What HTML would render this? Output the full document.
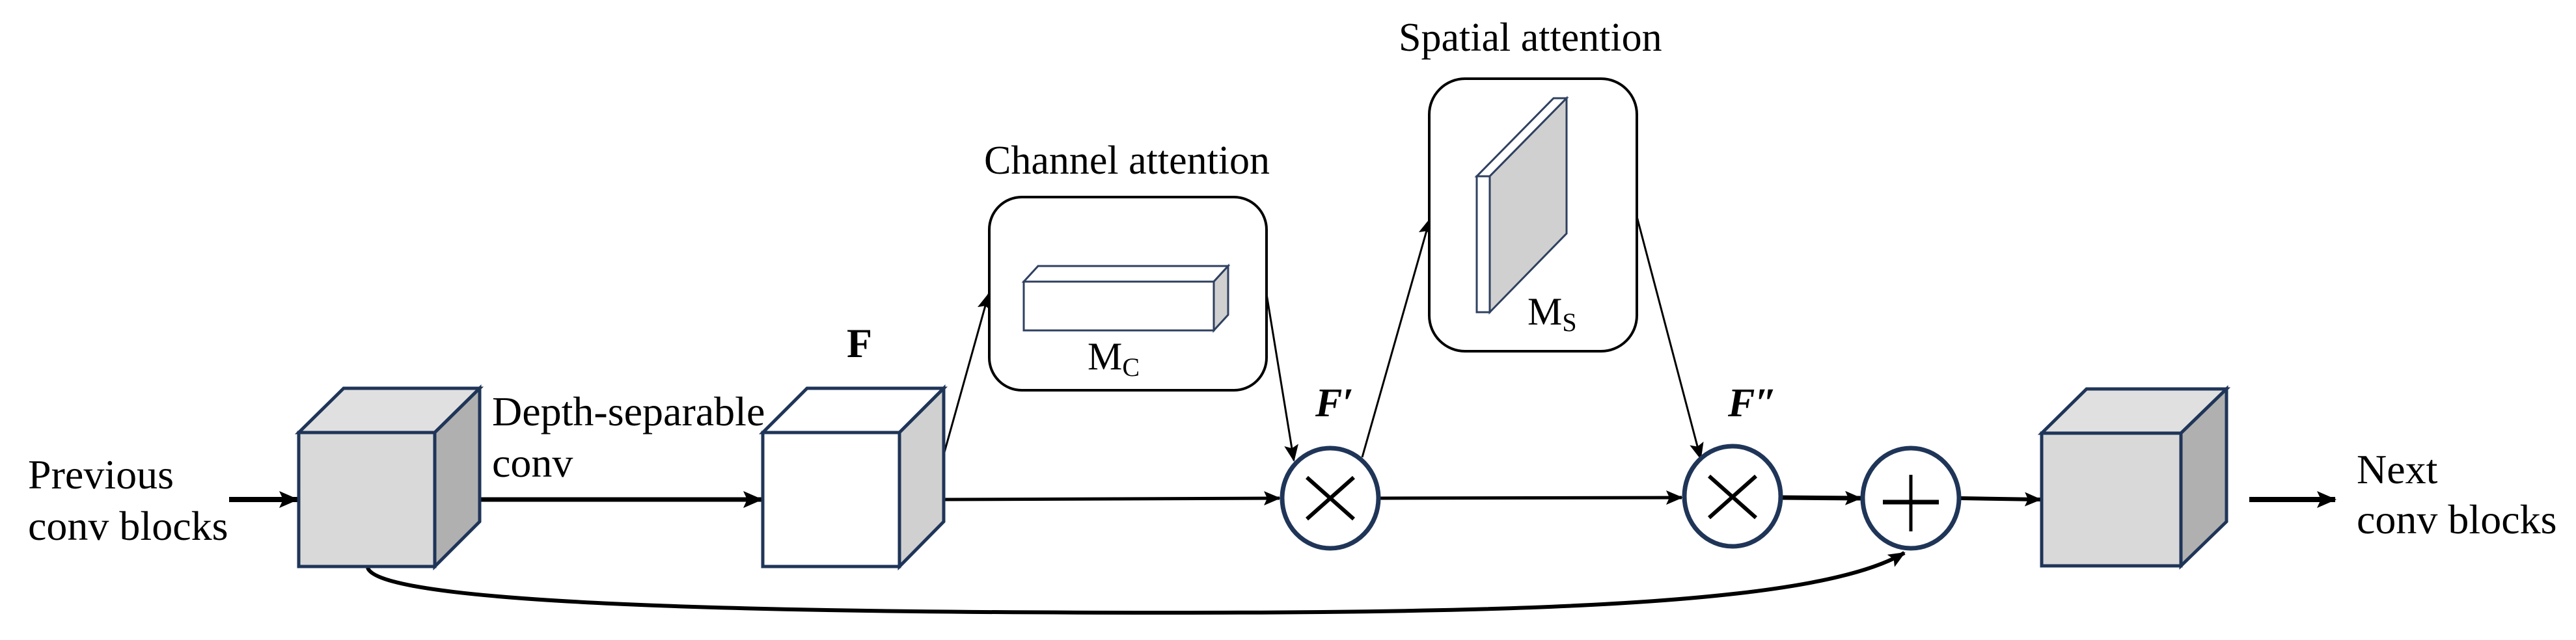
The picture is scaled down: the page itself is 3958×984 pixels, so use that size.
<!DOCTYPE html>
<html><head><meta charset="utf-8"><style>
html,body{margin:0;padding:0;background:#fff;}
svg{display:block;}
svg text{font-family:"Liberation Serif","DejaVu Serif",serif !important;fill:#000;}
</style></head><body>
<svg width="3958" height="984" viewBox="0 0 3958 984" xmlns="http://www.w3.org/2000/svg" font-family="Liberation Serif, serif">
<defs>
<marker id="a" markerUnits="userSpaceOnUse" markerWidth="30" markerHeight="26" refX="28" refY="13" orient="auto">
<path d="M0,0 L30,13 L0,26 L6,13 Z" fill="#000"/>
</marker>
<marker id="b" markerUnits="userSpaceOnUse" markerWidth="26" markerHeight="22" refX="24" refY="11" orient="auto">
<path d="M0,0 L26,11 L0,22 L5,11 Z" fill="#000"/>
</marker>
</defs>

<path d="M565,873 C585,935 1300,942 1800,942 C2400,942 2800,925 2926,850" fill="none" stroke="#000" stroke-width="6" marker-end="url(#b)"/>

<line x1="352" y1="768" x2="457" y2="768" stroke="#000" stroke-width="8" marker-end="url(#a)"/>
<line x1="737" y1="768" x2="1170" y2="768" stroke="#000" stroke-width="7" marker-end="url(#a)"/>
<line x1="1450" y1="768" x2="1966" y2="766" stroke="#000" stroke-width="5" marker-end="url(#b)"/>
<line x1="2120" y1="766" x2="2584" y2="765" stroke="#000" stroke-width="5" marker-end="url(#b)"/>
<line x1="2738" y1="765" x2="2859" y2="766" stroke="#000" stroke-width="7" marker-end="url(#b)"/>
<line x1="3012" y1="766" x2="3135" y2="768" stroke="#000" stroke-width="6" marker-end="url(#b)"/>
<line x1="3456" y1="768" x2="3588" y2="768" stroke="#000" stroke-width="8" marker-end="url(#a)"/>

<line x1="1450" y1="699" x2="1519" y2="452" stroke="#000" stroke-width="3" marker-end="url(#b)"/>
<line x1="1946" y1="452" x2="1988" y2="708" stroke="#000" stroke-width="3" marker-end="url(#b)"/>
<line x1="2093" y1="703" x2="2197" y2="337" stroke="#000" stroke-width="3" marker-end="url(#b)"/>
<line x1="2515" y1="333" x2="2613" y2="705" stroke="#000" stroke-width="3" marker-end="url(#b)"/>

<g stroke="#1f3558" stroke-width="5">
<polygon points="459,665 528,597 737,597 668,665" fill="#e0e0e0"/>
<polygon points="668,665 737,597 737,802 668,871" fill="#b0b0b0"/>
<rect x="459" y="665" width="209" height="206" fill="#d9d9d9"/>
</g>
<g stroke="#1f3558" stroke-width="5">
<polygon points="1172,665 1240,597 1450,597 1382,665" fill="#fff"/>
<polygon points="1382,665 1450,597 1450,802 1382,871" fill="#d0d0d0"/>
<rect x="1172" y="665" width="210" height="206" fill="#fff"/>
</g>
<g stroke="#1f3558" stroke-width="5">
<polygon points="3137,666 3206,598 3421,598 3351,666" fill="#e0e0e0"/>
<polygon points="3351,666 3421,598 3421,802 3351,870" fill="#b0b0b0"/>
<rect x="3137" y="666" width="214" height="204" fill="#d9d9d9"/>
</g>

<rect x="1520" y="303" width="426" height="297" rx="50" fill="#fff" stroke="#000" stroke-width="4"/>
<g stroke="#2f4060" stroke-width="3">
<polygon points="1573,433 1595,409 1887,409 1865,433" fill="#fff"/>
<polygon points="1865,433 1887,409 1887,484 1865,508" fill="#d0d0d0"/>
<rect x="1573" y="433" width="292" height="75" fill="#fff"/>
</g>
<text x="1671" y="568" font-size="60" font-family="Liberation Serif, serif">M<tspan font-size="40" dy="10">C</tspan></text>

<rect x="2196" y="121" width="319" height="419" rx="55" fill="#fff" stroke="#000" stroke-width="4"/>
<g stroke="#2f4060" stroke-width="3">
<polygon points="2269,271 2387,151 2407,151 2289,271" fill="#fff"/>
<polygon points="2289,271 2407,151 2407,359 2289,480" fill="#d0d0d0"/>
<rect x="2269" y="271" width="20" height="209" fill="#fff"/>
</g>
<text x="2347" y="499" font-size="60" font-family="Liberation Serif, serif">M<tspan font-size="40" dy="10">S</tspan></text>

<g fill="#fff" stroke="#1f3558" stroke-width="7">
<ellipse cx="2044" cy="766" rx="74" ry="77"/>
<ellipse cx="2662" cy="763" rx="74" ry="77"/>
<ellipse cx="2936" cy="766" rx="74" ry="77"/>
</g>
<g stroke="#000" stroke-width="6">
<line x1="2008" y1="734" x2="2080" y2="798"/><line x1="2080" y1="734" x2="2008" y2="798"/>
<line x1="2626" y1="732" x2="2698" y2="796"/><line x1="2698" y1="732" x2="2626" y2="796"/>
<line x1="2893" y1="772" x2="2979" y2="772" stroke-width="7"/><line x1="2936" y1="730" x2="2936" y2="817" stroke-width="5"/>
</g>

<g font-family="Liberation Serif, serif">
<text x="43" y="751" font-size="64">Previous</text>
<text x="43" y="830" font-size="64">conv blocks</text>
<text x="756" y="654" font-size="64">Depth-separable</text>
<text x="756" y="733" font-size="64">conv</text>
<text x="1301" y="549" font-size="64" font-weight="bold">F</text>
<text x="1512" y="267" font-size="62">Channel attention</text>
<text x="2149" y="78" font-size="62">Spatial attention</text>
<text x="2021" y="640" font-size="62" font-weight="bold" font-style="italic">F′</text>
<text x="2655" y="640" font-size="62" font-weight="bold" font-style="italic">F″</text>
<text x="3621" y="743" font-size="64">Next</text>
<text x="3621" y="820" font-size="64">conv blocks</text>
</g>
</svg>
</body></html>
